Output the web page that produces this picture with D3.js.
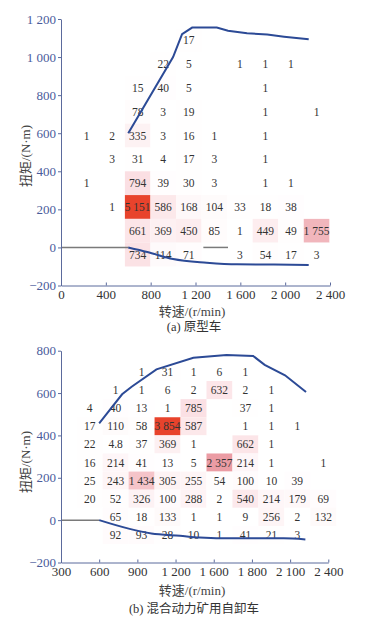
<!DOCTYPE html>
<html>
<head>
<meta charset="utf-8">
<script src="https://cdn.jsdelivr.net/npm/d3@7"></script>
<style>
  body { margin: 0; background: #fff; }
  svg { display: block; font-family: 'Liberation Serif', 'Noto Sans CJK SC', serif; }
</style>
</head>
<body>
<div class="svg-container"></div>
<script>
// ---- (a) 原型车 ----
var speedColsA = [228, 456, 684, 912, 1140, 1368, 1596, 1824, 2052, 2280];
var torqueRowsA = [1087.5, 962.5, 837.5, 712.5, 587.5, 462.5, 337.5, 212.5, 87.5, -37.5];
var countsA = [
	[null, null, null, null, 17, null, null, null, null, null],
	[null, null, null, 22, 5, null, 1, 1, 1, null],
	[null, null, 15, 40, 5, null, null, 1, null, null],
	[null, null, 78, 3, 19, null, null, 1, null, 1],
	[1, 2, 335, 3, 16, 1, null, 1, null, null],
	[null, 3, 31, 4, 17, 3, null, 1, null, null],
	[1, null, 794, 39, 30, 3, null, 1, 1, null],
	[null, 1, 5151, 586, 168, 104, 33, 18, 38, null],
	[null, null, 661, 369, 450, 85, 1, 449, 49, 1755],
	[null, null, 734, 114, 71, null, 3, 54, 17, 3]
];
var extSpeedA = [600, 1000, 1080, 1170, 1390, 1490, 1660, 1840, 1990, 2210];
var extTorqueA = [600, 1000, 1120, 1155, 1155, 1138, 1125, 1118, 1107, 1093];
var brakeSpeedA = [600, 770, 1000, 1300, 1570, 1900, 2210];
var brakeTorqueA = [0, -24, -61, -80, -89, -90, -92];
var zeroSegmentsA = [[0, 600], [1270, 1490]];
var xTicksA = [0, 400, 800, 1200, 1600, 2000, 2400];
var xTickLabelsA = ['0', '400', '800', '1 200', '1 600', '2 000', '2 400'];
var yTicksA = [-200, 0, 200, 400, 600, 800, 1000, 1200];

// ---- (b) 混合动力矿用自卸车 ----
var speedColsB = [525, 729, 933, 1137, 1341, 1545, 1749, 1953, 2157, 2361];
var torqueRowsB = [699.5, 614, 528.5, 443, 357.5, 272, 186.5, 101, 15.5, -70];
var countsB = [
	[null, null, 1, 31, 1, 6, 1, null, null, null],
	[null, 1, 1, 6, 2, 632, 2, 1, null, null],
	[4, 40, 13, 1, 785, null, 37, 1, null, null],
	[17, 110, 58, 3854, 587, null, 1, 1, 1, null],
	[22, 4.8, 37, 369, 1, null, 662, 1, null, null],
	[16, 214, 41, 13, 5, 2357, 214, 1, null, 1],
	[25, 243, 1434, 305, 255, 54, 100, 10, 39, null],
	[20, 52, 326, 100, 288, 2, 540, 214, 179, 69],
	[null, 65, 18, 133, 1, 1, 9, 256, 2, 132],
	[null, 92, 93, 28, 10, 1, 41, 21, 3, null]
];
var extSpeedB = [600, 780, 855, 1050, 1340, 1600, 1810, 1900, 2060, 2225];
var extTorqueB = [457, 594, 630, 712, 767, 780, 775, 733, 684, 605];
var brakeSpeedB = [600, 1010, 1235, 1390, 1650, 2050, 2220];
var brakeTorqueB = [0, -63, -74, -82, -86, -86, -91];
var zeroSegmentsB = [[300, 600]];
var xTicksB = [300, 600, 900, 1200, 1500, 1800, 2100, 2400];
var xTickLabelsB = ['300', '600', '900', '1 200', '1 600', '1 800', '2 100', '2 400'];
var yTicksB = [-200, 0, 200, 400, 600, 800];

var width = 376;
var height = 621;
var blue = '#2c4a96';
var axisColour = '#5b6a9c';
var fmt = d3.formatLocale({ decimal: '.', thousands: ' ', grouping: [3], currency: ['', ''], minus: '\u2212' });
var numFormat = fmt.format(',');

var colour = d3.scaleLinear()
	.domain([0, 800, 2400, 3800])
	.range(['#ffffff', '#fbdfe3', '#eb9aa2', '#e8432c'])
	.clamp(true);

// Create SVG element
var svg = d3.select('.svg-container')
	.append('svg')
	.attr('width', width)
	.attr('height', height);

function drawPanel(p) {
	var xScale = d3.scaleLinear().domain(p.xDomain).range([61, p.xRight]);
	var yScale = d3.scaleLinear().domain(p.yDomain).range([p.bottom, p.top]);
	var g = svg.append('g');

	var cells = [];
	p.counts.forEach(function(row, r) {
		row.forEach(function(v, c) {
			if (v !== null) cells.push({ speed: p.cols[c], torque: p.rows[r], value: v });
		});
	});

	// Shaded cells
	g.selectAll('rect.cell')
		.data(cells)
		.enter()
		.append('rect')
		.attr('class', 'cell')
		.attr('x', function(d) { return xScale(d.speed - p.colW / 2); })
		.attr('y', function(d) { return yScale(d.torque + p.rowH / 2); })
		.attr('width', xScale(p.colW) - xScale(0))
		.attr('height', yScale(0) - yScale(p.rowH))
		.attr('fill', function(d) { return colour(d.value); });

	// Zero torque gray segments
	g.selectAll('line.zero')
		.data(p.zeroSegs)
		.enter()
		.append('line')
		.attr('x1', function(d) { return xScale(d[0]); })
		.attr('x2', function(d) { return xScale(d[1]); })
		.attr('y1', yScale(0))
		.attr('y2', yScale(0))
		.attr('stroke', '#7a7a7a')
		.attr('stroke-width', 1.5);

	// Cell labels
	g.selectAll('text.cell')
		.data(cells)
		.enter()
		.append('text')
		.attr('x', function(d) { return xScale(d.speed); })
		.attr('y', function(d) { return yScale(d.torque) + 4; })
		.attr('text-anchor', 'middle')
		.attr('font-size', '11.5px')
		.attr('fill', '#333')
		.text(function(d) { return numFormat(d.value); });

	// Curves
	var line = d3.line()
		.x(function(d) { return xScale(d[0]); })
		.y(function(d) { return yScale(d[1]); });
	var smooth = d3.line()
		.curve(d3.curveMonotoneX)
		.x(function(d) { return xScale(d[0]); })
		.y(function(d) { return yScale(d[1]); });
	g.append('path')
		.attr('d', line(d3.zip(p.extSpeed, p.extTorque)))
		.attr('fill', 'none')
		.attr('stroke', blue)
		.attr('stroke-width', 2);
	g.append('path')
		.attr('d', smooth(d3.zip(p.brakeSpeed, p.brakeTorque)))
		.attr('fill', 'none')
		.attr('stroke', blue)
		.attr('stroke-width', 2);

	// Axes
	var xAxis = g.append('g')
		.attr('transform', 'translate(0,' + p.bottom + ')')
		.call(d3.axisBottom(xScale)
			.tickValues(p.xTicks)
			.tickSizeInner(-3)
			.tickSizeOuter(0)
			.tickPadding(4)
			.tickFormat(function(d, i) { return p.xLabels[i]; }));
	xAxis.selectAll('text').attr('fill', '#333').attr('font-size', '13px');

	var yAxis = g.append('g')
		.attr('transform', 'translate(61,0)')
		.call(d3.axisLeft(yScale)
			.tickValues(p.yTicks)
			.tickSizeInner(3)
			.tickSizeOuter(0)
			.tickPadding(2)
			.tickFormat(numFormat));
	yAxis.selectAll('text').attr('fill', '#4a5b9b').attr('font-size', '13px');

	[xAxis, yAxis].forEach(function(a) {
		a.attr('font-family', null);
		a.selectAll('path, line').attr('stroke', axisColour);
	});

	// Axis titles
	g.append('text')
		.attr('transform', 'translate(30,' + p.yLabelY + ') rotate(-90)')
		.attr('text-anchor', 'middle')
		.attr('font-size', '13px')
		.attr('fill', '#444')
		.text('扭矩/(N·m)');
	g.append('text')
		.attr('x', 192)
		.attr('y', p.xLabelY)
		.attr('text-anchor', 'middle')
		.attr('font-size', '13px')
		.attr('fill', '#444')
		.text('转速/(r/min)');
	g.append('text')
		.attr('x', 194)
		.attr('y', p.captionY)
		.attr('text-anchor', 'middle')
		.attr('font-size', '12.5px')
		.attr('fill', '#333')
		.text(p.caption);
}

drawPanel({
	xDomain: [0, 2400], xRight: 330, yDomain: [-200, 1200], top: 19, bottom: 285.5,
	cols: speedColsA, rows: torqueRowsA, counts: countsA, colW: 228, rowH: 125,
	extSpeed: extSpeedA, extTorque: extTorqueA, brakeSpeed: brakeSpeedA, brakeTorque: brakeTorqueA,
	zeroSegs: zeroSegmentsA, xTicks: xTicksA, xLabels: xTickLabelsA, yTicks: yTicksA,
	yLabelY: 156, xLabelY: 316, captionY: 331, caption: '(a) 原型车'
});

drawPanel({
	xDomain: [300, 2400], xRight: 328.3, yDomain: [-200, 800], top: 350.7, bottom: 562.5,
	cols: speedColsB, rows: torqueRowsB, counts: countsB, colW: 204, rowH: 85.5,
	extSpeed: extSpeedB, extTorque: extTorqueB, brakeSpeed: brakeSpeedB, brakeTorque: brakeTorqueB,
	zeroSegs: zeroSegmentsB, xTicks: xTicksB, xLabels: xTickLabelsB, yTicks: yTicksB,
	yLabelY: 462, xLabelY: 595, captionY: 613, caption: '(b) 混合动力矿用自卸车'
});
</script>
</body>
</html>
